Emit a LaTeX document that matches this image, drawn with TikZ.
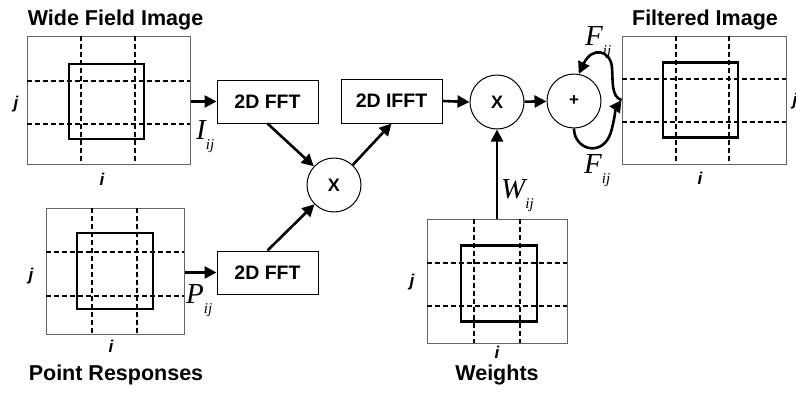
\documentclass[tikz,border=0pt]{standalone}
\usepackage{fontspec}
\setmainfont{Liberation Sans}
\newfontfamily\symfont{Liberation Serif}
\usetikzlibrary{arrows.meta}
\newcommand{\symij}[1]{{\fontsize{29}{29}\selectfont #1}\raisebox{-10pt}{\fontsize{15}{15}\selectfont ij}}

\begin{document}
\begin{tikzpicture}[x=1pt, y=-1pt,
  imgframe/.style={draw=black!60, line width=1pt, inner sep=0pt},
  sq/.style={draw, line width=2.4pt, inner sep=0pt, minimum size=75},
  gridline/.style={line width=1.5pt, dash pattern=on 5pt off 3pt},
  proc/.style={draw, line width=1pt, minimum width=101, minimum height=43, font=\fontsize{19.5}{20}\selectfont\bfseries},
  op/.style={draw, circle, line width=1pt, minimum size=54, inner sep=0pt, font=\fontsize{18}{18}\selectfont\bfseries},
  ttl/.style={anchor=base, inner sep=0pt, font=\fontsize{21.5}{22}\selectfont\bfseries},
  ax/.style={inner sep=0pt, font=\fontsize{17}{17}\selectfont\bfseries\itshape},
  sym/.style={anchor=base west, inner sep=0pt, font=\symfont\itshape},
  flow/.style={-{Triangle[length=12pt, width=12pt]}, line width=2.6pt}
]
\useasboundingbox (0,0) rectangle (796,394);

% image frames
\node[imgframe, minimum width=163, minimum height=128] (wfi) at (108.5,100) {};
\node[imgframe, minimum width=138, minimum height=126] (pr) at (115,271) {};
\node[imgframe, minimum width=140, minimum height=124] (wt) at (497,281) {};
\node[imgframe, minimum width=164, minimum height=128] (fi) at (704,100) {};

\draw[gridline] (81,36) -- (81,164) (135,36) -- (135,164) (27,81) -- (190,81) (27,124) -- (190,124);
\draw[gridline] (92,208) -- (92,334) (137,208) -- (137,334) (46,252) -- (184,252) (46,296) -- (184,296);
\draw[gridline] (474,219) -- (474,343) (520,219) -- (520,343) (427,263) -- (567,263) (427,306) -- (567,306);
\draw[gridline] (676,36) -- (676,164) (729,36) -- (729,164) (622,79) -- (786,79) (622,122) -- (786,122);

\node[sq] (wfisq) at (106.5,101.5) {};
\node[sq, minimum size=76] (prsq) at (115,271) {};
\node[sq, minimum size=76] (wtsq) at (499,283.5) {};
\node[sq] (fisq) at (700.5,100) {};

% titles and axes
\node[ttl] (twfi) at (115.5,25) {Wide Field Image};
\node[ttl] (tpr) at (116,380) {Point Responses};
\node[ttl] (twt) at (497,380) {Weights};
\node[ttl] (tfi) at (705,25) {Filtered Image};

\node[ax] (jwfi) at (16,104) {j};
\node[ax] (iwfi) at (102,179) {i};
\node[ax] (jpr) at (31,276) {j};
\node[ax] (ipr) at (111,346.5) {i};
\node[ax] (jwt) at (412,282) {j};
\node[ax] (iwt) at (497,352) {i};
\node[ax] (jfi) at (795,101) {j};
\node[ax] (ifi) at (700,178) {i};

% processing
\node[proc] (fft1) at (267.5,101.5) {2D FFT};
\node[proc] (fft2) at (267.5,272.5) {2D FFT};
\node[proc, minimum height=44] (ifft) at (391.5,101) {2D IFFT};
\node[op] (mulf) at (334,185) {X};
\node[op] (mulw) at (497,102) {X};
\node[op, font=\fontsize{17}{17}\selectfont\bfseries] (sum) at (574,101) {+};

% connectors
\draw[flow] (wfi.east |- fft1.west) -- (fft1.west);
\draw[flow] (pr.east |- fft2.west) -- (fft2.west);
\draw[flow] (fft1.south) -- (mulf);
\draw[flow] (fft2.north) -- (mulf);
\draw[flow] (mulf) -- (ifft.south);
\draw[flow] (ifft.east) -- (mulw.west);
\draw[flow] (mulw) -- (sum);
\draw[flow] (wt.north) -- (mulw.south);
\draw[flow] (fi.west) .. controls (611,97) and (613,80) .. (612,68) .. controls (611,50) and (592,46) .. (sum.80);
\draw[flow] (sum.south) .. controls (574,150) and (603,158) .. (611,132) .. controls (614,122) and (616,108) .. (fi.west);

% labels
\node[sym] (lI) at (196,139) {\symij{I}};
\node[sym] (lP) at (186,303) {\symij{P}};
\node[sym] (lW) at (501,198) {\symij{W}};
\node[sym] (lFt) at (585,45) {\symij{F}};
\node[sym] (lFb) at (584,173) {\symij{F}};
\end{tikzpicture}
\end{document}
